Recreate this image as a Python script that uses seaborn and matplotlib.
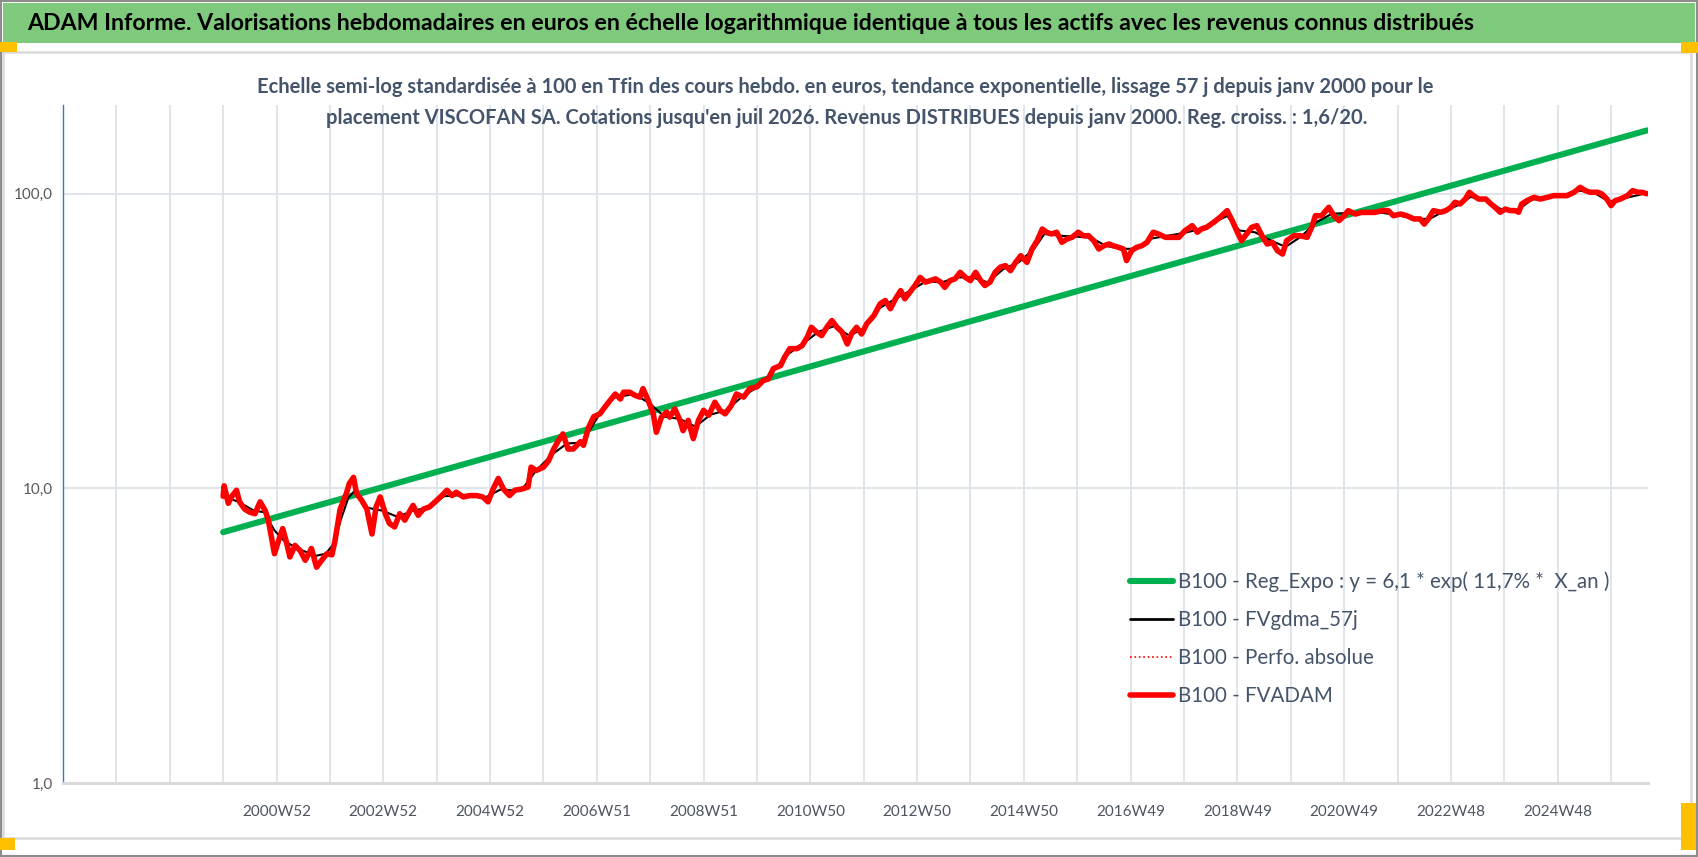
import matplotlib
matplotlib.use("Agg")
import numpy as np
import pandas as pd
import matplotlib.pyplot as plt
from matplotlib.lines import Line2D
from matplotlib.patches import Rectangle
from matplotlib.ticker import FixedLocator, FixedFormatter, NullLocator
import seaborn as sns

# ---- data (week offset from janv 2000, value base 100) ----
red_weeks = [0, 1, 5, 8, 13, 16, 21, 26, 31, 36, 41, 44, 47, 50, 54, 58, 62, 65, 70, 75,
             80, 86, 91, 96, 101, 106, 109, 114, 120, 123, 127, 130, 135, 140, 145, 149, 153, 158, 162, 167,
             172, 177, 182, 185, 190, 195, 201, 208, 213, 218, 223, 227, 234, 240, 247, 253, 258, 263, 268, 273,
             279, 284, 291, 297, 300, 305, 312, 317, 322, 326, 331, 336, 341, 348, 351, 356, 361, 367, 372, 377,
             382, 387, 390, 396, 401, 406, 409, 414, 419, 422, 427, 432, 435, 440, 445, 448, 453, 458, 463, 468,
             473, 479, 484, 489, 495, 500, 507, 513, 520, 526, 531, 536, 543, 547, 552, 559, 564, 569, 573, 578,
             583, 588, 593, 598, 603, 608, 612, 617, 622, 627, 634, 640, 645, 650, 655, 660, 664, 669, 674, 679,
             684, 689, 694, 699, 703, 708, 713, 718, 723, 728, 733, 738, 742, 747, 752, 757, 762, 767, 772, 777,
             783, 788, 793, 798, 802, 807, 812, 817, 822, 827, 833, 838, 843, 848, 853, 858, 863, 867, 872, 877,
             880, 885, 890, 895, 900, 906, 911, 918, 924, 931, 937, 944, 949, 953, 958, 965, 971, 978, 983, 988,
             992, 997, 1002, 1007, 1012, 1017, 1022, 1027, 1032, 1036, 1043, 1049, 1056, 1061, 1064, 1070, 1077, 1082, 1087, 1092,
             1096, 1103, 1109, 1116, 1122, 1129, 1135, 1140, 1147, 1153, 1160, 1166, 1170, 1174, 1179, 1186, 1191, 1196, 1200, 1205,
             1210, 1214, 1218, 1223, 1230, 1235, 1239, 1244, 1249, 1254, 1259, 1262, 1265, 1270, 1277, 1283, 1290, 1296, 1303, 1309,
             1316, 1322, 1327, 1332, 1339, 1343, 1348, 1352, 1356, 1361, 1368, 1373, 1378, 1382, 1387]
red_values = [9.4, 10.2, 8.9, 9.35, 9.85, 9.0, 8.5, 8.3, 8.2, 9.0, 8.4, 7.8, 6.85, 6.0, 6.65, 7.3, 6.5, 5.85, 6.4, 6.15,
              5.7, 6.25, 5.4, 5.7, 6.0, 5.95, 6.65, 8.5, 9.6, 10.4, 10.9, 9.6, 9.1, 8.5, 7.0, 8.65, 9.35, 8.2, 7.6, 7.4,
              8.2, 7.8, 8.4, 8.75, 8.1, 8.5, 8.65, 9.1, 9.45, 9.85, 9.45, 9.7, 9.35, 9.45, 9.45, 9.35, 9.0, 9.95, 10.8, 9.95,
              9.45, 9.85, 9.95, 10.1, 11.8, 11.5, 11.8, 12.4, 13.6, 14.4, 15.3, 13.6, 13.6, 14.4, 14.0, 16.1, 17.5, 17.9, 18.9, 19.9,
              20.9, 20.1, 21.2, 21.2, 20.7, 20.4, 21.8, 19.9, 17.9, 15.5, 17.45, 18.15, 17.45, 18.6, 17.0, 15.7, 17.0, 14.75, 17.0, 18.4,
              17.7, 19.6, 18.4, 17.9, 19.1, 20.9, 20.4, 21.8, 22.1, 23.2, 23.5, 25.5, 26.1, 27.9, 29.8, 29.8, 30.5, 32.6, 35.2, 33.9,
              33.0, 35.2, 37.1, 35.2, 33.9, 30.9, 33.4, 35.2, 33.4, 36.2, 38.6, 42.3, 43.4, 40.7, 44.0, 46.9, 44.0, 46.3, 48.8, 52.0,
              50.1, 50.7, 51.4, 50.1, 48.1, 50.7, 51.4, 54.1, 52.0, 50.7, 54.1, 50.7, 48.8, 50.1, 54.1, 56.3, 57.0, 54.8, 58.5, 61.6,
              58.5, 64.9, 69.3, 75.9, 74.0, 73.0, 74.0, 68.4, 70.2, 71.1, 74.0, 72.0, 72.0, 69.3, 64.9, 66.6, 67.5, 66.6, 65.8, 64.9,
              59.3, 64.1, 65.8, 66.6, 68.4, 74.0, 73.0, 71.1, 71.1, 71.1, 74.9, 77.9, 74.0, 75.9, 76.9, 80.0, 83.1, 87.6, 81.0, 74.0,
              69.3, 73.0, 76.9, 77.9, 72.0, 67.5, 68.4, 64.1, 62.4, 69.3, 72.0, 72.0, 71.1, 77.9, 84.2, 84.2, 89.9, 84.2, 81.0, 84.2,
              87.6, 85.3, 86.4, 86.4, 86.4, 87.6, 87.6, 84.2, 85.3, 84.2, 82.1, 82.1, 78.9, 82.1, 87.6, 86.5, 87.6, 89.9, 93.5, 92.3,
              95.9, 101.1, 98.5, 95.9, 95.9, 92.3, 89.9, 86.5, 88.7, 87.6, 87.6, 86.5, 92.3, 94.7, 97.2, 95.9, 97.2, 98.5, 98.5, 98.5,
              101.1, 105.1, 102.4, 101.1, 101.1, 99.8, 95.9, 91.1, 94.7, 95.9, 98.5, 102.4, 101.1, 101.1, 100.0]

black_weeks = [0, 15, 30, 40, 50, 60, 75, 90, 100, 108, 115, 122, 128, 140, 155, 170, 185, 200, 215, 235,
               255, 270, 290, 305, 320, 335, 350, 365, 380, 400, 415, 430, 445, 460, 475, 490, 505, 520, 535, 550,
               565, 580, 595, 610, 625, 640, 655, 670, 685, 700, 715, 730, 745, 760, 775, 790, 800, 815, 830, 845,
               860, 875, 890, 905, 920, 935, 950, 965, 978, 990, 1005, 1020, 1035, 1050, 1065, 1080, 1095, 1110, 1125, 1140,
               1160, 1175, 1190, 1205, 1215, 1230, 1245, 1260, 1275, 1290, 1305, 1320, 1335, 1350, 1365, 1387]
black_values = [9.4, 9.0, 8.4, 8.3, 7.2, 6.6, 6.2, 5.9, 6.0, 6.5, 7.9, 9.3, 9.8, 8.6, 8.4, 8.0, 8.4, 8.6, 9.4, 9.5,
                9.3, 9.9, 9.8, 11.5, 13.0, 14.2, 14.3, 17.5, 20.3, 20.9, 19.5, 17.5, 17.2, 16.2, 17.8, 18.4, 20.4, 22.0, 24.8, 28.5,
                31.0, 34.0, 35.5, 33.0, 35.0, 41.0, 44.0, 47.0, 50.5, 50.0, 52.0, 52.0, 50.0, 55.5, 58.5, 65.0, 73.0, 72.0, 71.5, 71.0,
                66.5, 65.0, 65.0, 70.5, 72.0, 73.5, 75.5, 80.0, 84.0, 75.0, 74.0, 69.5, 66.0, 71.5, 80.0, 85.5, 86.0, 86.0, 86.5, 85.0,
                82.5, 82.0, 87.5, 92.0, 97.5, 95.5, 88.5, 87.5, 95.5, 97.0, 98.5, 102.5, 101.0, 94.0, 96.5, 100.5]

trend_weeks = [0, 1387]
trend_values = [7.1, 164.0]

tick_labels = ["2000W52", "2002W52", "2004W52", "2006W51", "2008W51", "2010W50", "2012W50",
               "2014W50", "2016W49", "2018W49", "2020W49", "2022W48", "2024W48"]
y_ticks = [1, 10, 100]
y_tick_labels = ["1,0", "10,0", "100,0"]

legend_labels = ["B100 - Reg_Expo : y = 6,1 * exp( 11,7% *  X_an )",
                 "B100 - FVgdma_57j",
                 "B100 - Perfo. absolue",
                 "B100 - FVADAM"]

title = ("ADAM Informe. Valorisations hebdomadaires en euros en échelle logarithmique "
         "identique à tous les actifs avec les revenus connus distribués")
subtitle1 = ("Echelle semi-log standardisée à 100 en Tfin des cours hebdo. en euros, tendance "
             "exponentielle, lissage 57 j depuis janv 2000 pour le")
subtitle2 = ("placement VISCOFAN SA. Cotations jusqu'en juil 2026. Revenus DISTRIBUES "
             "depuis janv 2000. Reg. croiss. : 1,6/20.")

# the category axis has 156 empty weeks before the first quote
LEAD = 156
AXIS_END = 1544

red = pd.DataFrame({"week": np.array(red_weeks) + LEAD, "value": red_values})
black = pd.DataFrame({"week": np.array(black_weeks) + LEAD, "value": black_values})
trend = pd.DataFrame({"week": np.array(trend_weeks) + LEAD, "value": trend_values})

sns.set_theme(style="white")
plt.rcParams['font.family'] = ['Lato', 'DejaVu Sans']

W, H = 1698, 857
fig = plt.figure(figsize=(W / 100, H / 100), dpi=100)
fig.patch.set_facecolor("white")


def px_rect(x0, y0, x1, y1, **kw):
    r = Rectangle((x0 / W, 1 - y1 / H), (x1 - x0) / W, (y1 - y0) / H,
                  transform=fig.transFigure, **kw)
    fig.patches.append(r)


# frame, title bar and selection handles
px_rect(1, 1, W - 1, H - 1, fill=False, edgecolor="#8c8c8c", lw=1.5)
px_rect(3, 3, W - 3, 43, facecolor="#7fc97d", edgecolor="none")
px_rect(3, 52, 1691, 838, fill=False, edgecolor="#d9d9d9", lw=1.8)
px_rect(0, 42, 17, 52, facecolor="#ffc000", edgecolor="none")
px_rect(1681, 42, 1698, 53, facecolor="#ffc000", edgecolor="none")
px_rect(0, 838, 15, 850, facecolor="#ffc000", edgecolor="none")
px_rect(1681, 803, 1696, 850, facecolor="#ffc000", edgecolor="none")

fig.text(27 / W, 1 - 23 / H, title, fontsize=16.7, fontweight="bold", color="black",
         ha="left", va="center")
fig.text(845 / W, 1 - 87 / H, subtitle1, fontsize=14.5, fontweight="bold", color="#44546a",
         ha="center", va="center")
fig.text(847 / W, 1 - 118 / H, subtitle2, fontsize=14.5, fontweight="bold", color="#44546a",
         ha="center", va="center")

ax = fig.add_axes([63 / W, 1 - 783 / H, (1648 - 63) / W, (783 - 105) / H])
ax.set_facecolor("white")

sns.lineplot(data=trend, x="week", y="value", color="#00b050", lw=4.4, ax=ax)
sns.lineplot(data=black, x="week", y="value", color="black", lw=1.5, ax=ax)
sns.lineplot(data=red, x="week", y="value", color="#ff0000", lw=1.2, ls=":", ax=ax)
sns.lineplot(data=red, x="week", y="value", color="#ff0000", lw=4.0, ax=ax)

ax.set_yscale("log")
ax.set_ylim(1, 200)
ax.set_xlim(0, AXIS_END)
ax.yaxis.set_major_locator(FixedLocator(y_ticks))
ax.yaxis.set_major_formatter(FixedFormatter(y_tick_labels))
ax.yaxis.set_minor_locator(NullLocator())

xt = np.arange(0, AXIS_END, 52)
xl = [""] * len(xt)
for k, lab in enumerate(tick_labels):
    xl[4 + 2 * k] = lab
ax.set_xticks(xt)
ax.set_xticklabels(xl)

ax.grid(True, which="major", axis="both", color="#dde3ea", lw=1.3)
ax.set_axisbelow(True)
ax.set_xlabel("")
ax.set_ylabel("")
ax.tick_params(axis="x", length=4, width=1.2, color="#dde3ea", pad=12,
               labelsize=11, labelcolor="#4d5560")
ax.tick_params(axis="y", length=0, pad=7, labelsize=11, labelcolor="#595959")
for s in ["top", "right"]:
    ax.spines[s].set_visible(False)
ax.spines["left"].set_color("#4472c4")
ax.spines["left"].set_linewidth(1.0)
ax.spines["bottom"].set_color("#d9d9d9")
ax.spines["bottom"].set_linewidth(2.2)

handles = [Line2D([], [], color="#00b050", lw=4.4),
           Line2D([], [], color="black", lw=2.0),
           Line2D([], [], color="#ff0000", lw=1.2, ls=":"),
           Line2D([], [], color="#ff0000", lw=4.0)]
leg = fig.legend(handles, legend_labels, loc="upper left",
                 bbox_to_anchor=(1111 / W, 1 - 553 / H), frameon=False,
                 fontsize=14.8, handlelength=2.1, handletextpad=0.25, labelspacing=0.88)
for t in leg.get_texts():
    t.set_color("#44546a")

fig.savefig("out.png", dpi=100, facecolor="white")
